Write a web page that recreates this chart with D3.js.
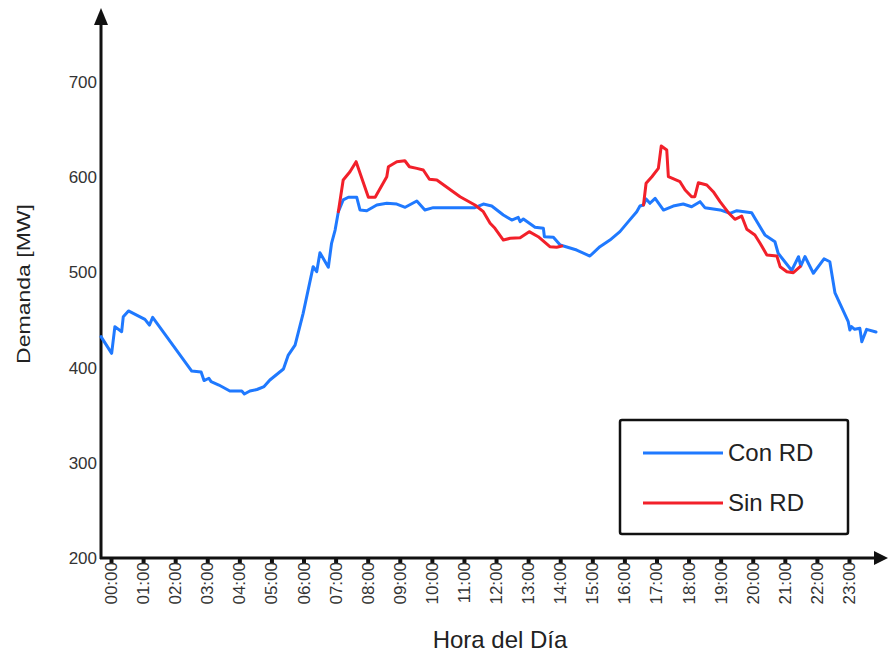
<!DOCTYPE html>
<html>
<head>
<meta charset="utf-8">
<script src="https://cdn.jsdelivr.net/npm/d3@7/dist/d3.min.js"></script>
<style>
  html, body { margin: 0; padding: 0; background: #fff; }
  svg { display: block; font-family: "Liberation Sans", Arial, sans-serif; }
</style>
</head>
<body>
<svg id="chart" width="888" height="653"></svg>
<script>
// Etiquetas del eje horizontal (una por hora)
const horas = d3.range(24).map(h => String(h).padStart(2, "0") + ":00");
const yTicks = [200, 300, 400, 500, 600, 700];

// Demanda con respuesta de la demanda (hora del día, MW)
const conRD_hora = [0.00, 0.33, 0.43, 0.64, 0.69, 0.85, 1.36, 1.50, 1.60, 2.81, 3.10, 3.19, 3.34, 3.41, 3.65, 3.99,
  4.36, 4.44, 4.61, 4.83, 5.05, 5.23, 5.65, 5.80, 6.01, 6.26, 6.57, 6.68, 6.78, 7.04, 7.14, 7.25, 7.35, 7.50,
  7.66, 7.92, 8.02, 8.23, 8.54, 8.85, 9.16, 9.42, 9.78, 10.03, 10.29, 11.58, 11.84, 12.10, 12.46, 12.72, 12.92,
  12.98, 13.08, 13.44, 13.70, 13.73, 14.01, 14.22, 14.73, 15.14, 15.45, 15.76, 16.07, 16.33, 16.59, 16.69,
  16.80, 16.88, 17.00, 17.16, 17.42, 17.72, 18.03, 18.29, 18.55, 18.70, 19.17, 19.48, 19.69, 20.15, 20.25,
  20.56, 20.87, 20.97, 21.39, 21.60, 21.67, 21.80, 22.06, 22.39, 22.57, 22.73, 23.14, 23.19, 23.24, 23.34,
  23.50, 23.56, 23.71, 24.00];
const conRD_mw = [432.5, 415.0, 443.0, 437.7, 453.5, 459.5, 450.7, 444.7, 452.8, 396.4, 395.4, 386.4, 388.8, 385.2,
  381.7, 375.4, 375.4, 372.3, 375.4, 377.0, 380.1, 387.0, 398.5, 413.2, 423.7, 457.0, 506.0, 500.7, 520.7, 505.4,
  530.6, 544.5, 563.8, 576.1, 578.9, 578.9, 565.6, 564.8, 570.8, 572.6, 571.8, 568.4, 575.0, 565.6, 568.0, 568.0,
  571.8, 569.7, 560.3, 555.0, 557.9, 553.3, 556.1, 547.4, 546.3, 537.5, 536.9, 528.8, 523.5, 517.2, 527.0, 534.0,
  542.8, 553.3, 563.8, 569.7, 570.8, 577.1, 572.6, 577.8, 565.5, 569.7, 571.9, 569.0, 574.3, 568.0, 565.6, 562.1,
  564.8, 562.7, 556.8, 539.4, 532.2, 520.1, 502.0, 516.5, 506.7, 516.7, 499.1, 514.3, 511.2, 478.4, 448.2, 439.5,
  443.0, 440.2, 441.3, 427.2, 440.2, 437.4];

// Demanda sin respuesta de la demanda (null separa los dos tramos)
const sinRD_hora = [7.35, 7.50, 7.71, 7.90, 8.28, 8.49, 8.85, 8.90, 9.16, 9.41, 9.55, 9.78, 9.98, 10.17, 10.40,
  11.12, 11.58, 11.84, 12.05, 12.20, 12.46, 12.67, 12.98, 13.26, 13.54, 13.90, 14.11, 14.27, null,
  16.80, 16.88, 17.06, 17.26, 17.35, 17.52, 17.57, 17.93, 18.09, 18.29, 18.39, 18.50, 18.76, 18.96, 19.17,
  19.43, 19.63, 19.84, 20.00, 20.25, 20.41, 20.62, 20.93, 21.03, 21.24, 21.44, 21.65];
const sinRD_mw = [563.8, 597.1, 605.8, 616.3, 578.9, 578.9, 600.5, 611.0, 616.3, 617.3, 611.0, 609.3, 607.6, 597.8,
  597.1, 579.5, 570.8, 563.8, 551.6, 546.3, 534.0, 535.8, 536.4, 542.8, 537.5, 527.0, 526.4, 527.7, null,
  570.8, 593.6, 600.5, 609.3, 632.8, 628.6, 600.5, 595.3, 586.6, 579.5, 579.5, 594.2, 591.8, 584.8, 574.3,
  562.7, 555.8, 559.2, 545.3, 539.3, 530.6, 518.3, 517.2, 506.0, 500.7, 499.7, 506.0];

const series = [
  { name: "Con RD", color: "#1f79ff", hora: conRD_hora, mw: conRD_mw },
  { name: "Sin RD", color: "#f2202a", hora: sinRD_hora, mw: sinRD_mw }
];

const svg = d3.select("#chart");
const ink = "#111";

// Escalas
const x = d3.scaleLinear().domain([0, 24]).range([101, 876]);
const xLab = d3.scalePoint().domain(horas).range([111, 849]);
const y = d3.scaleLinear().domain([200, 700]).range([558, 82]);

// Eje Y: etiquetas
const yAxis = d3.axisLeft(y).tickValues(yTicks).tickSize(0).tickPadding(4);
const gy = svg.append("g").attr("transform", "translate(101,0)").call(yAxis);
gy.select(".domain").remove();
gy.selectAll("text")
  .attr("font-size", 17).attr("fill", "#333")
  .attr("font-family", "Liberation Sans, Arial, sans-serif");

// Eje X: marcas y etiquetas giradas
const xAxis = d3.axisBottom(xLab).tickSizeInner(5).tickSizeOuter(0).tickPadding(3);
const gx = svg.append("g").attr("transform", "translate(0,558)").call(xAxis);
gx.select(".domain").remove();
gx.selectAll(".tick line").attr("stroke", ink).attr("stroke-width", 4);
gx.selectAll("text")
  .attr("font-size", 17).attr("fill", "#333")
  .attr("font-family", "Liberation Sans, Arial, sans-serif")
  .attr("text-anchor", "end")
  .attr("dy", null)
  .attr("dominant-baseline", "central")
  .attr("transform", "rotate(-90)")
  .attr("x", -4).attr("y", 0);

// Líneas de ejes con flechas
svg.append("line").attr("x1", 101).attr("y1", 559).attr("x2", 101).attr("y2", 22)
  .attr("stroke", ink).attr("stroke-width", 3);
svg.append("path").attr("d", "M101,8 L94,25 L108,25 Z").attr("fill", ink);
svg.append("line").attr("x1", 100).attr("y1", 558).attr("x2", 876).attr("y2", 558)
  .attr("stroke", ink).attr("stroke-width", 3);
svg.append("path").attr("d", "M888,558 L874,551 L874,565 Z").attr("fill", ink);

// Series
const line = d3.line()
  .defined((d) => d[0] != null && d[1] != null)
  .x((d) => x(d[0]))
  .y((d) => y(d[1]));

series.forEach((s) => {
  const pts = s.hora.map((h, i) => [h, s.mw[i]]);
  svg.append("path")
    .datum(pts)
    .attr("fill", "none")
    .attr("stroke", s.color)
    .attr("stroke-width", 3)
    .attr("stroke-linejoin", "round")
    .attr("stroke-linecap", "round")
    .attr("d", line);
});

// Títulos de ejes
svg.append("text")
  .attr("transform", "translate(30,284) rotate(-90)")
  .attr("text-anchor", "middle")
  .attr("font-size", 18)
  .attr("textLength", 160)
  .attr("lengthAdjust", "spacingAndGlyphs")
  .attr("fill", "#222")
  .text("Demanda [MW]");

svg.append("text")
  .attr("x", 500).attr("y", 648)
  .attr("text-anchor", "middle")
  .attr("font-size", 24)
  .attr("fill", "#222")
  .text("Hora del Día");

// Leyenda
const lg = svg.append("g");
lg.append("rect")
  .attr("x", 620).attr("y", 420).attr("width", 228).attr("height", 114)
  .attr("rx", 2).attr("fill", "#fff").attr("stroke", ink).attr("stroke-width", 2.5);
series.forEach((s, i) => {
  const ly = 453 + i * 50;
  lg.append("line")
    .attr("x1", 643).attr("x2", 723).attr("y1", ly).attr("y2", ly)
    .attr("stroke", s.color).attr("stroke-width", 3);
  lg.append("text")
    .attr("x", 728).attr("y", ly + 8)
    .attr("font-size", 24).attr("fill", "#222")
    .text(s.name);
});
</script>
</body>
</html>
